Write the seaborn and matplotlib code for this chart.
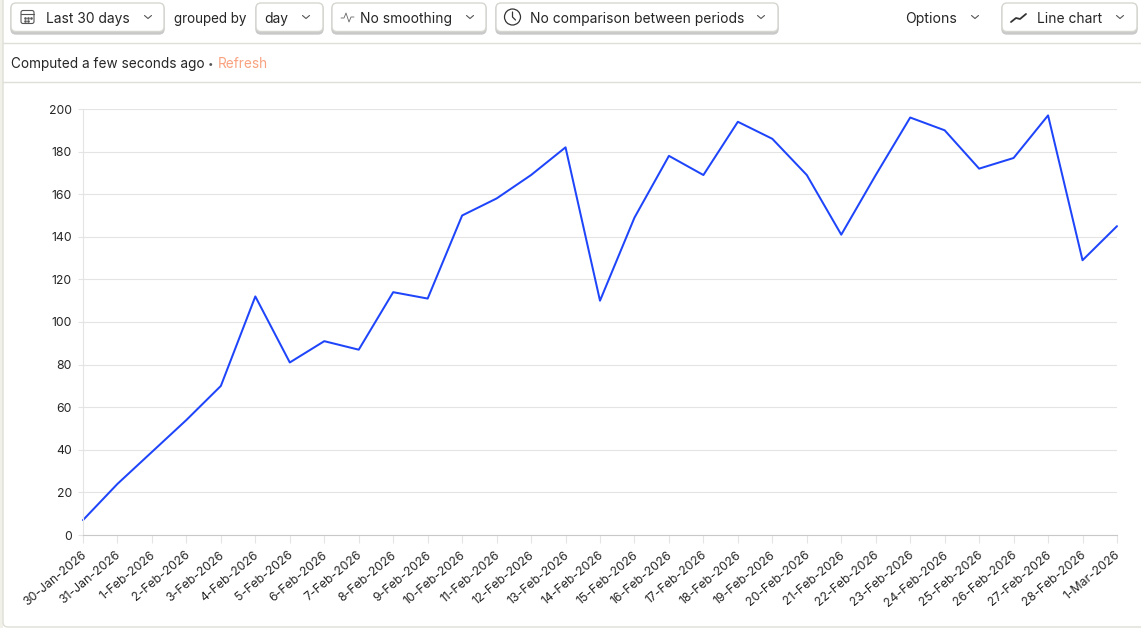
import seaborn as sns
import pandas as pd
import matplotlib.pyplot as plt
from matplotlib.patches import FancyBboxPatch, Circle, Rectangle
from matplotlib.transforms import ScaledTranslation

# Values
dates = ["30-Jan-2026", "31-Jan-2026", "1-Feb-2026", "2-Feb-2026", "3-Feb-2026", "4-Feb-2026",
         "5-Feb-2026", "6-Feb-2026", "7-Feb-2026", "8-Feb-2026", "9-Feb-2026", "10-Feb-2026",
         "11-Feb-2026", "12-Feb-2026", "13-Feb-2026", "14-Feb-2026", "15-Feb-2026", "16-Feb-2026",
         "17-Feb-2026", "18-Feb-2026", "19-Feb-2026", "20-Feb-2026", "21-Feb-2026", "22-Feb-2026",
         "23-Feb-2026", "24-Feb-2026", "25-Feb-2026", "26-Feb-2026", "27-Feb-2026", "28-Feb-2026",
         "1-Mar-2026"]
counts = [7, 24, 39, 54, 70, 112, 81, 91, 87, 114, 111, 150, 158, 169, 182, 110, 149, 178,
          169, 194, 186, 169, 141, 169, 196, 190, 172, 177, 197, 129, 145]
y_ticks = [0, 20, 40, 60, 80, 100, 120, 140, 160, 180, 200]

W, H = 1141, 628
TEXT = "#262626"
GRID = "#e4e4e4"
BORDER = "#dedfd6"

sns.set_style("white")
plt.rcParams["font.family"] = ["Inter", "DejaVu Sans"]

fig = plt.figure(figsize=(W / 100, H / 100), dpi=100, facecolor="white")

# Page chrome, drawn in pixel coordinates
ui = fig.add_axes([0, 0, 1, 1])
ui.set_xlim(0, W)
ui.set_ylim(H, 0)
ui.axis("off")


def button(x0, x1):
    ui.add_patch(FancyBboxPatch((x0, 4), x1 - x0, 30, boxstyle="round,pad=0,rounding_size=5",
                                fc="#c9c9c9", ec="#c9c9c9", lw=1))
    ui.add_patch(FancyBboxPatch((x0, 3), x1 - x0, 28.5, boxstyle="round,pad=0,rounding_size=5",
                                fc="white", ec="#d6d6d0", lw=1))


def chevron(x, y=17):
    ui.plot([x - 3.5, x, x + 3.5], [y - 1.5, y + 1.5, y - 1.5], color="#555555", lw=0.8)


def label(x, y, s, size=9.95, color=TEXT):
    ui.text(x, y, s, fontsize=size, color=color, va="center", ha="left")


ui.add_patch(Rectangle((0, 0), 3, H, fc="#f1f1ea", ec="none"))
ui.add_patch(FancyBboxPatch((3, -20), W + 20, H - 1 + 20, boxstyle="round,pad=0,rounding_size=5",
                            fc="white", ec=BORDER, lw=1))

button(11, 164)
button(256, 323)
button(332, 486)
button(496, 778)
button(1002, 1137)

label(46, 19, "Last 30 days")
label(173.5, 19.5, "grouped by", size=9.7)
label(264, 19, "day")
label(360, 19, "No smoothing")
label(530, 19, "No comparison between periods")
label(905.5, 19.5, "Options", size=10.1)
label(1037, 19, "Line chart")

for cx in [148, 306, 470, 761, 975, 1120]:
    chevron(cx)

# calendar icon
ui.add_patch(FancyBboxPatch((21, 10.5), 13, 13, boxstyle="round,pad=0,rounding_size=2",
                            fc="none", ec="#555555", lw=0.8))
ui.plot([21, 34], [14, 14], color="#555555", lw=0.8)
ui.plot([25, 28, 31, 25, 28], [17.5, 17.5, 17.5, 20.5, 20.5], ls="none", marker="s", ms=0.8, color="#555555")
# pulse icon
ui.plot([341, 344, 346, 349, 351, 354], [18, 18, 13, 22, 17, 17], color="#666666", lw=0.6)
# clock icon
ui.add_patch(Circle((512.5, 17), 8, fc="none", ec="#333333", lw=0.9))
ui.plot([512.5, 512.5, 515.5], [12, 17, 20], color="#333333", lw=0.9)
# line chart icon
ui.plot([1011, 1016, 1020, 1026], [22, 18, 19, 14], color="#333333", lw=1.3)

ui.plot([3, W], [43, 43], color=BORDER, lw=1)
ui.plot([3, W], [82, 82], color=BORDER, lw=1)
label(11, 64, "Computed a few seconds ago", size=9.8)
label(207.5, 64, "•", size=7, color="#555555")
label(218, 64, "Refresh", size=9.8, color="#f9a27f")

# The chart itself
df = pd.DataFrame({"date": dates, "count": counts})

left, right, top, bottom = 83, 1117, 109, 535
ax = fig.add_axes([left / W, 1 - bottom / H, (right - left) / W, (bottom - top) / H])
ax.patch.set_alpha(0)
sns.lineplot(data=df, x="date", y="count", sort=False, color="#1f45fa", linewidth=1.45, ax=ax, clip_on=False)

ax.set_xlim(0, len(dates) - 1)
ax.set_ylim(0, 200)
ax.set_yticks(y_ticks)
ax.set_xticks(range(len(dates)))
ax.set_xticklabels(dates, rotation=40, ha="right", rotation_mode="anchor")
ax.set(xlabel="", ylabel="")
ax.grid(axis="y", color=GRID, lw=0.8)
ax.set_axisbelow(True)
ax.tick_params(axis="y", length=3.6, width=0.8, color=GRID, labelsize=8.8, labelcolor=TEXT, pad=4.5, left=True)
ax.tick_params(axis="x", length=6, width=0.8, color=GRID, labelsize=8.8, labelcolor=TEXT, pad=4, bottom=True)
shift = ScaledTranslation(-2 / 100, 0, fig.dpi_scale_trans)
for tick_label in ax.get_xticklabels():
    tick_label.set_transform(tick_label.get_transform() + shift)
sns.despine(ax=ax, top=True, right=True)
ax.spines["left"].set_color(GRID)
ax.spines["bottom"].set_color("#c8c8c8")

plt.savefig("out.png", dpi=100)
